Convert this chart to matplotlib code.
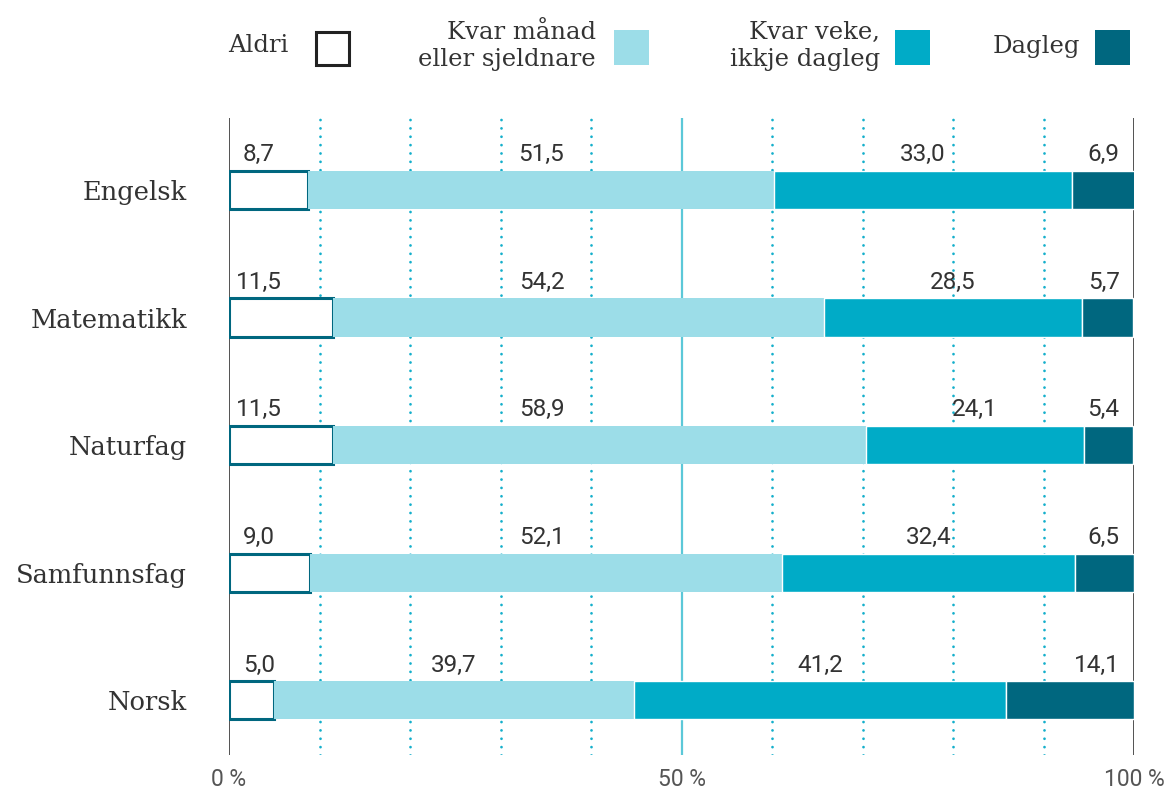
import matplotlib.pyplot as plt
from matplotlib.patches import Rectangle

# svarfordeling per fag (prosent)
fag = ["Engelsk", "Matematikk", "Naturfag", "Samfunnsfag", "Norsk"]
aldri = [8.7, 11.5, 11.5, 9.0, 5.0]
kvar_maanad = [51.5, 54.2, 58.9, 52.1, 39.7]
kvar_veke = [33.0, 28.5, 24.1, 32.4, 41.2]
dagleg = [6.9, 5.7, 5.4, 6.5, 14.1]

kategoriar = ["Aldri", "Kvar månad\neller sjeldnare", "Kvar veke,\nikkje dagleg", "Dagleg"]
x_ticks = [0, 50, 100]
x_ticklabels = ["0 %", "50 %", "100 %"]

LYS = "#9cdde8"
MIDT = "#00abc7"
MORK = "#00677f"
TEKST = "#333333"
SERIF = "DejaVu Serif"
SANS = "Roboto"

W, H = 1173, 792
fig = plt.figure(figsize=(W / 100, H / 100), dpi=100)
ax = fig.add_axes([229 / W, 37 / H, 905 / W, 637 / H])

serier = [aldri, kvar_maanad, kvar_veke, dagleg]
fargar = [
    dict(facecolor="white", edgecolor=MORK, linewidth=2.2),
    dict(color=LYS, linewidth=0),
    dict(facecolor=MIDT, edgecolor="white", linewidth=1),
    dict(facecolor=MORK, edgecolor="white", linewidth=1),
]

y = list(range(len(fag)))
bar_h = 0.30
venstre = [0.0] * len(fag)
for s, (verdiar, stil) in enumerate(zip(serier, fargar)):
    ax.barh(y, verdiar, left=venstre, height=bar_h, zorder=3, **stil)
    for i, v in enumerate(verdiar):
        midt = venstre[i] + v / 2
        if s == 0:
            xt, ha = 3.3, "center"
        elif s == 1:
            xt, ha = min(midt, 34.6), "center"
        elif s == len(serier) - 1:
            xt, ha = 98.4, "right"
        else:
            xt, ha = midt, "center"
        ax.text(xt, i - bar_h / 2 - 0.075, f"{v:.1f}".replace(".", ","),
                ha=ha, va="baseline", fontsize=17.5, color=TEKST,
                family=SANS, zorder=4)
    venstre = [a + b for a, b in zip(venstre, verdiar)]

ylim = (len(fag) - 1 + 0.43, -0.565)
ax.set_ylim(*ylim)
ax.set_xlim(0, 100)

# hjelpelinjer
for gx in range(10, 100, 10):
    if gx == 50:
        ax.vlines(gx, *ylim, color="#5cc8d8", linewidth=1.6, zorder=1)
    else:
        ax.vlines(gx, *ylim, color="#14afcb", linewidth=2.0,
                  linestyles=[(0, (0.01, 3.0))], capstyle="round", zorder=1)
for gx in (0, 100):
    ax.vlines(gx, *ylim, color="#444444", linewidth=1.3, zorder=2)

ax.set_yticks(y)
ax.set_yticklabels(fag, fontsize=18.5, family=SERIF, color=TEKST)
ax.set_xticks(x_ticks)
ax.set_xticklabels(x_ticklabels, fontsize=16.5, family=SANS, color="#555555")
ax.tick_params(axis="y", length=0, pad=30)
ax.tick_params(axis="x", length=0, pad=9)
for sp in ax.spines.values():
    sp.set_visible(False)

# forklaring øvst
tekst_x = [288, 596, 880, 1080]
boks_x = [316, 614, 895, 1095]
for k, (navn, tx, bx) in enumerate(zip(kategoriar, tekst_x, boks_x)):
    fig.text(tx / W, 1 - 46 / H, navn, ha="right", va="center",
             fontsize=17.5, family=SERIF, color=TEKST, linespacing=1.25)
    if k == 0:
        fig.patches.append(Rectangle((bx / W, 1 - 65 / H), 33 / W, 33 / H,
                                     transform=fig.transFigure, facecolor="white",
                                     edgecolor="#222222", linewidth=2.2))
    else:
        fc = [LYS, MIDT, MORK][k - 1]
        fig.patches.append(Rectangle((bx / W, 1 - 65 / H), 35 / W, 35 / H,
                                     transform=fig.transFigure, facecolor=fc,
                                     linewidth=0))

fig.savefig("out.png", dpi=100)
